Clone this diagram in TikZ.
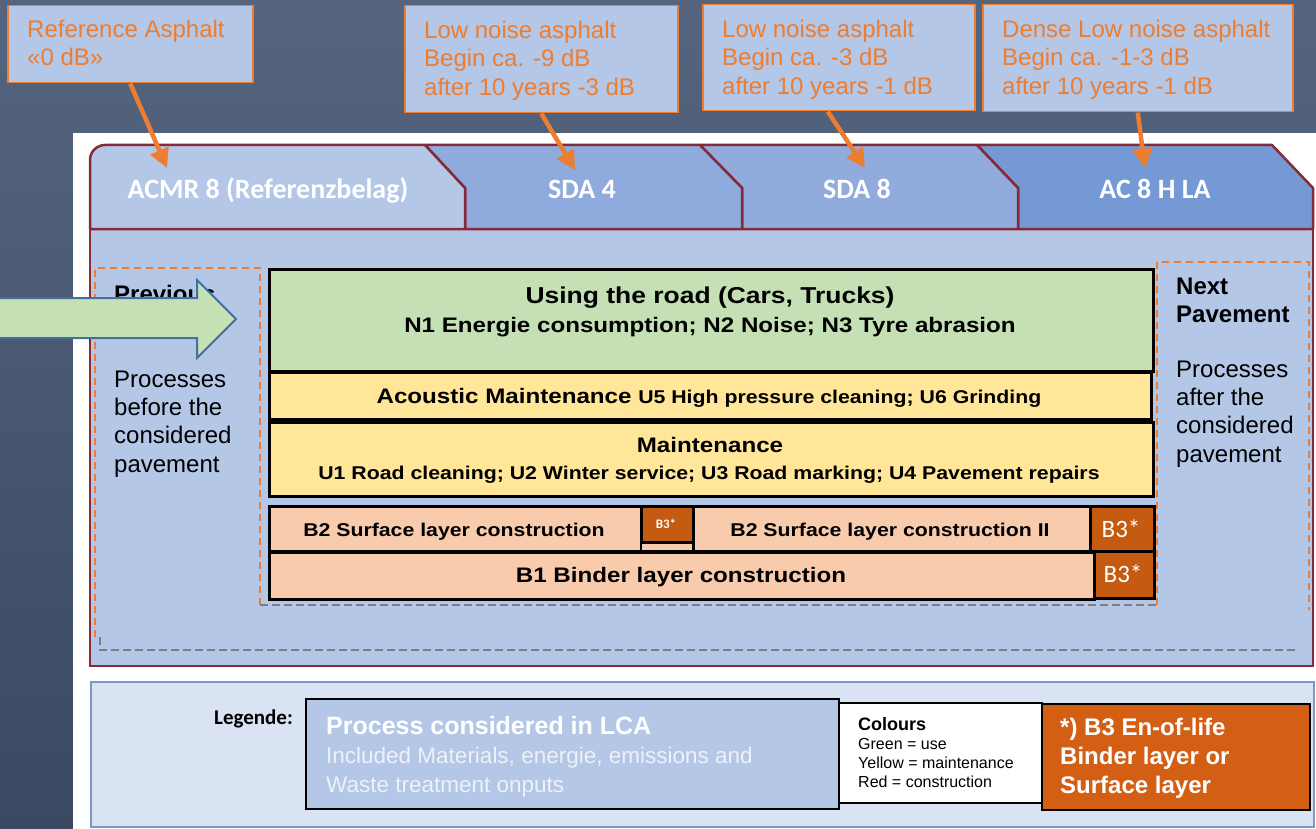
\documentclass[tikz,border=0pt]{standalone}
\usepackage{fontspec}
\setmainfont{Liberation Sans}
\newfontfamily\carlito{Carlito}
\newfontfamily\wideb[FakeStretch=1.15]{Liberation Sans}
\usetikzlibrary{arrows.meta}
\definecolor{bgtop}{HTML}{56657F}
\definecolor{bgbot}{HTML}{3A4961}
\definecolor{callfill}{HTML}{B4C7E7}
\definecolor{orangeC}{HTML}{ED7D31}
\definecolor{frameC}{HTML}{862A3A}
\definecolor{tabone}{HTML}{B4C7E7}
\definecolor{tabtwo}{HTML}{8FAADC}
\definecolor{tabthree}{HTML}{90ABDC}
\definecolor{tabfour}{HTML}{7499D4}
\definecolor{bodyfill}{HTML}{B4C7E7}
\definecolor{useg}{HTML}{C5E0B4}
\definecolor{maint}{HTML}{FFE699}
\definecolor{constr}{HTML}{F8CBAD}
\definecolor{eol}{HTML}{C55A11}
\definecolor{legorange}{HTML}{D35F14}
\definecolor{legfill}{HTML}{DAE3F3}
\definecolor{legborder}{HTML}{8097C4}
\definecolor{arrowblue}{HTML}{41719C}
\definecolor{graydash}{HTML}{7F7F7F}
\definecolor{paletext}{HTML}{EDF1F9}
\newcommand\firstline[1]{\rule{0pt}{#1pt}}
\begin{document}
\begin{tikzpicture}[x=1pt,y=-1pt,
  callbox/.style={draw=orangeC, line width=1.5pt, fill=callfill, anchor=north west, inner sep=0pt},
  calltxt/.style={anchor=north west, inner sep=0pt, align=left, text=orangeC, font=\fontsize{24}{28.6}\selectfont},
  callarrow/.style={draw=orangeC, line width=4.5pt, -{Triangle[length=19pt,width=19pt]}},
  tabshape/.style={draw=frameC, line width=2.5pt, line join=round},
  tablabel/.style={anchor=base, inner sep=0pt, text=white, font=\carlito\bfseries\fontsize{28}{32}\selectfont},
  procbox/.style={draw=black, line width=3pt, anchor=north west, inner sep=0pt},
  midtxt/.style={anchor=base, inner sep=0pt},
  sidetxt/.style={anchor=north west, inner sep=0pt, align=left, font=\fontsize{24}{28.3}\selectfont},
  odash/.style={draw=orangeC, line width=1.5pt, dash pattern=on 7pt off 5pt},
  gdash/.style={draw=graydash, line width=1.2pt, dash pattern=on 8pt off 4pt},
  legbox/.style={draw=black, line width=2pt, anchor=north west, inner sep=0pt},
  legtxt/.style={anchor=base west, inner sep=0pt}]
\useasboundingbox (0,0) rectangle (1316,829);
\shade[top color=bgtop,bottom color=bgbot] (0,0) rectangle (1316,829);
\fill[white] (73,133) rectangle (1316,829);

% callouts
\node[callbox, minimum width=245pt, minimum height=77pt] (c1) at (7,5) {};
\node[callbox, minimum width=273pt, minimum height=107pt] (c2) at (404,5) {};
\node[callbox, minimum width=272pt, minimum height=106pt] (c3) at (702,4) {};
\node[callbox, minimum width=310pt, minimum height=107pt] (c4) at (982,4) {};
\node[calltxt] (c1t) at (27,19) {\firstline{18}Reference Asphalt\\«0 dB»};
\node[calltxt] (c2t) at (424,20) {\firstline{18}Low noise asphalt\\Begin ca. -9 dB\\after 10 years -3 dB};
\node[calltxt] (c3t) at (722,19) {\firstline{18}Low noise asphalt\\Begin ca. -3 dB\\after 10 years -1 dB};
\node[calltxt] (c4t) at (1002,19) {\firstline{18}Dense Low noise asphalt\\Begin ca. -1-3 dB\\after 10 years -1 dB};

% body
\fill[bodyfill] (90,229) rectangle (1313,666);
\draw[frameC, line width=2.5pt] (90,229) -- (90,666) -- (1313,666) -- (1313,229);

% tabs
\filldraw[tabshape, fill=tabfour] (977,145) -- (1272,145) -- (1313,188) -- (1313,229) -- (1018,229) -- (1018,188) -- cycle;
\filldraw[tabshape, fill=tabthree] (700,145) -- (977,145) -- (1018,188) -- (1018,229) -- (742,229) -- (742,188) -- cycle;
\filldraw[tabshape, fill=tabtwo] (425,145) -- (700,145) -- (742,188) -- (742,229) -- (465,229) -- (465,188) -- cycle;
\filldraw[tabshape, fill=tabone] (90,229) -- (90,160) arc[start angle=180, end angle=270, radius=15] -- (425,145) -- (465,188) -- (465,229) -- cycle;
\node[tablabel] (t1) at (268,199) {ACMR 8 (Referenzbelag)};
\node[tablabel] (t2) at (582,199) {SDA 4};
\node[tablabel] (t3) at (857,199) {SDA 8};
\node[tablabel] (t4) at (1155,199) {AC 8 H LA};

% callout arrows
\coordinate (a1) at (167,168);
\coordinate (a2) at (575,170);
\coordinate (a3) at (865,168);
\coordinate (a4) at (1145,168);
\draw[callarrow] (c1.south) -- (a1);
\draw[callarrow] (c2.south) -- (a2);
\draw[callarrow] ([xshift=-11pt]c3.south) -- (a3);
\draw[callarrow] (c4.south) -- (a4);

% dashed frames
\draw[odash] (260,605) -- (260,268) -- (95,268) -- (95,637);
\draw[odash] (1157,605) -- (1157,262) -- (1309,262) -- (1309,610);
\draw[gdash] (260,605) -- (1157,605);
\draw[gdash] (100,637) -- (100,650) -- (1296,650);

% side texts
\node[sidetxt, font=\bfseries\fontsize{24}{28.3}\selectfont] (prevt) at (114,284) {\firstline{18}Previous\\Pavement};
\node[sidetxt] (prevb) at (114,369) {\firstline{18}Processes\\before the\\considered\\pavement};
\node[sidetxt, font=\bfseries\fontsize{24}{28.3}\selectfont] (nextt) at (1176,276) {\firstline{18}Next\\Pavement};
\node[sidetxt] (nextb) at (1176,359) {\firstline{18}Processes\\after the\\considered\\pavement};

% big arrow
\filldraw[fill=useg, draw=arrowblue, line width=2pt, line join=miter] (-5,298) -- (197,298) -- (197,280) -- (236,319) -- (197,358) -- (197,338) -- (-5,338) -- cycle;

% process boxes
\node[procbox, fill=useg, minimum width=884pt, minimum height=102pt] (use) at (268,268) {};
\node[procbox, fill=maint, minimum width=882pt, minimum height=47pt] (acm) at (268,371) {};
\node[procbox, fill=maint, minimum width=884pt, minimum height=74pt] (mnt) at (268,421) {};
\node[procbox, fill=constr, minimum width=372pt, minimum height=45pt] (b2a) at (268,505) {};
\node[procbox, line width=1.5pt, fill=constr, minimum width=52pt, minimum height=9pt] (gap) at (640,541) {};
\node[procbox, fill=eol, minimum width=52pt, minimum height=36pt] (b3a) at (640,505) {};
\node[procbox, fill=constr, minimum width=397pt, minimum height=45pt] (b2b) at (692,505) {};
\node[procbox, fill=eol, minimum width=64pt, minimum height=45pt] (b3b) at (1089,505) {};
\node[procbox, fill=constr, minimum width=825pt, minimum height=47pt] (b1) at (268,551) {};
\node[procbox, fill=eol, minimum width=60pt, minimum height=47pt] (b3c) at (1093,550) {};

\node[midtxt, font=\wideb\bfseries\fontsize{23}{28}\selectfont] (uset1) at (710,303) {Using the road (Cars, Trucks)};
\node[midtxt, font=\wideb\bfseries\fontsize{21}{25}\selectfont] (uset2) at (710,332) {N1 Energie consumption; N2 Noise; N3 Tyre abrasion};
\node[midtxt, font=\wideb\bfseries] (acmt) at (709,403) {{\fontsize{21}{25}\selectfont Acoustic Maintenance }{\fontsize{18.5}{22}\selectfont U5 High pressure cleaning; U6 Grinding}};
\node[midtxt, font=\wideb\bfseries\fontsize{21}{25}\selectfont] (mntt1) at (710,452) {Maintenance};
\node[midtxt, font=\wideb\bfseries\fontsize{18.5}{22}\selectfont] (mntt2) at (709,479) {U1 Road cleaning; U2 Winter service; U3 Road marking; U4 Pavement repairs};
\node[midtxt, font=\wideb\bfseries\fontsize{18.5}{22}\selectfont] (b2at) at (454,536) {B2 Surface layer construction};
\node[midtxt, font=\wideb\bfseries\fontsize{18.5}{22}\selectfont] (b2bt) at (890,536) {B2 Surface layer construction II};
\node[midtxt, font=\wideb\bfseries\fontsize{21}{25}\selectfont] (b1t) at (681,582) {B1 Binder layer construction};
\node[midtxt, text=white, font=\carlito\bfseries\fontsize{13}{15}\selectfont] (b3at) at (666,528) {B3*};
\node[midtxt, text=white, font=\carlito\fontsize{25}{30}\selectfont] (b3bt) at (1121,537) {B3*};
\node[midtxt, text=white, font=\carlito\fontsize{25}{30}\selectfont] (b3ct) at (1123,582) {B3*};

% legend
\node[draw=legborder, line width=1.5pt, fill=legfill, anchor=north west, minimum width=1223pt, minimum height=145pt, inner sep=0pt] (leg) at (90,681) {};
\node[anchor=base east, inner sep=0pt, font=\carlito\bfseries\fontsize{21}{24}\selectfont] (legt) at (293,724) {Legende:};
\node[legbox, fill=bodyfill, minimum width=533pt, minimum height=110pt] (lca) at (305,698) {};
\node[legbox, fill=white, minimum width=203pt, minimum height=100pt] (col) at (838,702) {};
\node[legbox, fill=legorange, minimum width=268pt, minimum height=106pt] (eolleg) at (1041,703) {};
\node[legtxt, text=white, font=\bfseries\fontsize{25}{29}\selectfont] (lcat1) at (326,734) {Process considered in LCA};
\node[legtxt, text=paletext, font=\fontsize{22.5}{29}\selectfont] (lcat2) at (326,763) {Included Materials, energie, emissions and};
\node[legtxt, text=paletext, font=\fontsize{22.5}{29}\selectfont] (lcat3) at (326,792) {Waste treatment onputs};
\node[legtxt, font=\bfseries\fontsize{18}{21}\selectfont] (colt1) at (858,730) {Colours};
\node[legtxt, font=\fontsize{16}{19}\selectfont] (colt2) at (858,749) {Green = use};
\node[legtxt, font=\fontsize{16}{19}\selectfont] (colt3) at (858,768) {Yellow = maintenance};
\node[legtxt, font=\fontsize{16}{19}\selectfont] (colt4) at (858,787) {Red = construction};
\node[legtxt, text=white, font=\bfseries\fontsize{24}{29}\selectfont] (eolt1) at (1060,735) {*) B3 En-of-life};
\node[legtxt, text=white, font=\bfseries\fontsize{24}{29}\selectfont] (eolt2) at (1060,764) {Binder layer or};
\node[legtxt, text=white, font=\bfseries\fontsize{24}{29}\selectfont] (eolt3) at (1060,793) {Surface layer};
\end{tikzpicture}
\end{document}
